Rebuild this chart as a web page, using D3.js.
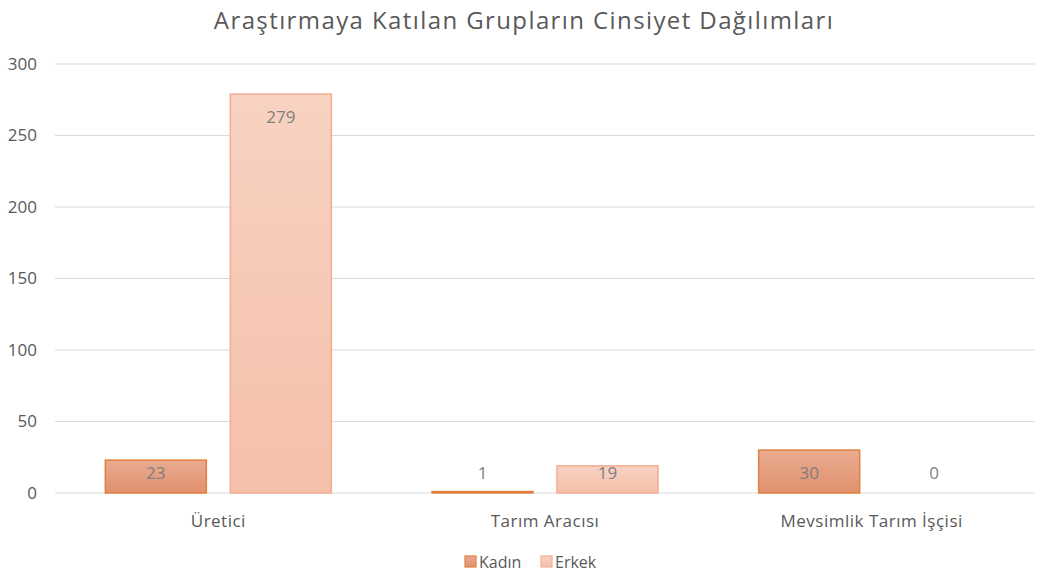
<!DOCTYPE html>
<html><head><meta charset="utf-8">
<script src="https://cdn.jsdelivr.net/npm/d3@7"></script>
<style>body{margin:0;background:#fff}svg{display:block}text{font-family:"Open Sans",sans-serif}</style>
</head><body><svg id="c" width="1040" height="576"></svg>
<script>
const categories = ["Üretici", "Tarım Aracısı", "Mevsimlik Tarım İşçisi"];
const seriesNames = ["Kadın", "Erkek"];
const kadin = [23, 1, 30];
const erkek = [279, 19, 0];
const yTicks = [0, 50, 100, 150, 200, 250, 300];
const title = "Araştırmaya Katılan Grupların Cinsiyet Dağılımları";

(function(){
const svg = d3.select("#c");
const defs = svg.append("defs");
const g1 = defs.append("linearGradient").attr("id","gk").attr("x1",0).attr("x2",0).attr("y1",0).attr("y2",1);
g1.append("stop").attr("offset","0").attr("stop-color","#e9ab8f");
g1.append("stop").attr("offset","1").attr("stop-color","#e1916f");
const g2 = defs.append("linearGradient").attr("id","ge").attr("x1",0).attr("x2",0).attr("y1",0).attr("y2",1);
g2.append("stop").attr("offset","0").attr("stop-color","#f8d2c2");
g2.append("stop").attr("offset","1").attr("stop-color","#f5c0aa");

const fills = ["url(#gk)", "url(#ge)"];
const strokes = ["#e2813f", "#f3ad91"];
const mLeft = 55, mRight = 1035, mTop = 64, mBottom = 493;
const x = d3.scaleBand().domain(categories).range([mLeft, mRight]).paddingInner(0).paddingOuter(0);
const inner = 226;
const off = (x.bandwidth() - inner) / 2;
const xs = d3.scaleBand().domain(seriesNames).range([off, off + inner]).paddingInner(24/125).paddingOuter(0);
const y = d3.scaleLinear().domain([0, 300]).range([mBottom, mTop]);

svg.append("text").attr("x", 524).attr("y", 29).attr("text-anchor","middle")
  .attr("font-size", 24).attr("letter-spacing", 1.4).attr("fill", "#595959").text(title);

const grid = svg.append("g");
yTicks.forEach(t => {
  grid.append("line").attr("x1", mLeft).attr("x2", mRight).attr("y1", y(t)).attr("y2", y(t))
    .attr("stroke", "#d9d9d9").attr("stroke-width", 1.2);
  svg.append("text").attr("x", 37).attr("y", y(t)).attr("dy", "0.35em").attr("text-anchor","end")
    .attr("font-size", 17).attr("fill", "#595959").text(t);
});

const data = [kadin, erkek];
seriesNames.forEach((s, si) => {
  categories.forEach((c, ci) => {
    const v = data[si][ci];
    const bx = x(c) + xs(s);
    const bw = xs.bandwidth();
    if (v > 0) {
      svg.append("rect").attr("x", bx).attr("y", y(v)).attr("width", bw).attr("height", y(0) - y(v))
        .attr("fill", fills[si]).attr("stroke", strokes[si]).attr("stroke-width", 1.5);
    }
    const ly = Math.min(y(v) + 23, y(0) - 20);
    svg.append("text").attr("x", bx + bw / 2).attr("y", ly).attr("dy", "0.35em").attr("text-anchor","middle")
      .attr("font-size", 17).attr("fill", "#7f7f7f").text(v);
  });
});

categories.forEach(c => {
  svg.append("text").attr("x", x(c) + x.bandwidth() / 2).attr("y", 521).attr("dy","0.35em")
    .attr("text-anchor","middle").attr("font-size", 17).attr("letter-spacing", 0.5).attr("fill", "#595959").text(c);
});

const legX = [465, 541];
seriesNames.forEach((s, si) => {
  svg.append("rect").attr("x", legX[si]).attr("y", 556).attr("width", 11).attr("height", 11)
    .attr("fill", fills[si]).attr("stroke", strokes[si]).attr("stroke-width", 1.2);
  svg.append("text").attr("x", legX[si] + 14).attr("y", 562).attr("dy","0.35em")
    .attr("font-size", 16).attr("fill", "#595959").text(s);
});
})();
</script></body></html>
